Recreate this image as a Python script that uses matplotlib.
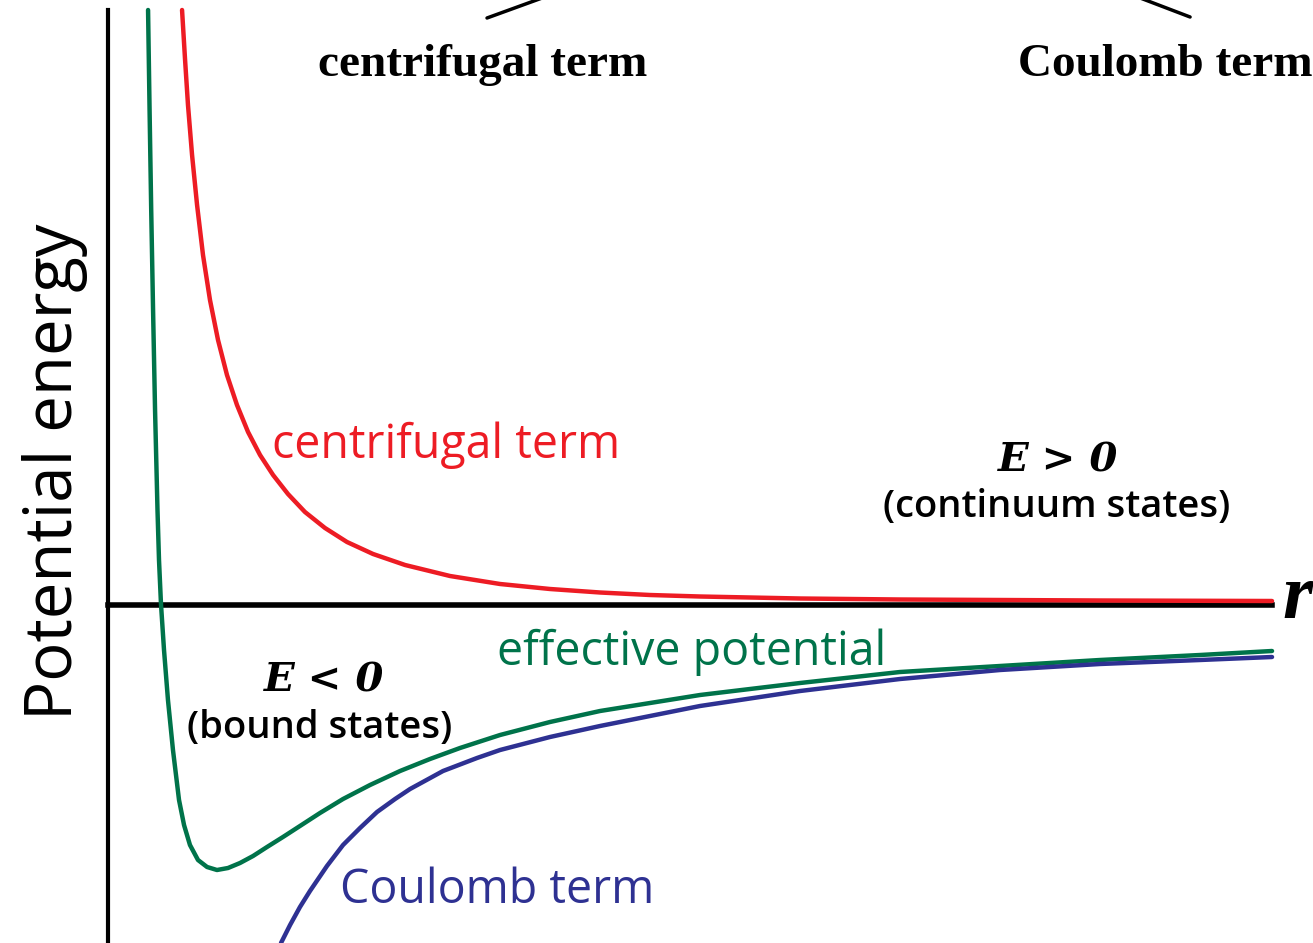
import matplotlib
matplotlib.use("Agg")
import matplotlib.pyplot as plt

# ========================================
# DATA
# ========================================

# centrifugal term
r_centrifugal = [0.636, 0.662, 0.687, 0.722, 0.765, 0.816, 0.876, 0.945, 1.022, 1.108,
                 1.203, 1.306, 1.418, 1.546, 1.692, 1.864, 2.053, 2.277, 2.552, 2.938,
                 3.368, 3.797, 4.227, 4.656, 5.086, 5.945, 6.804, 7.663, 8.522, 10.0]
v_centrifugal = [5.95, 5.45, 5.00, 4.50, 4.00, 3.50, 3.05, 2.65, 2.30, 2.00,
                 1.73, 1.50, 1.30, 1.11, 0.93, 0.77, 0.63, 0.51, 0.40, 0.29,
                 0.21, 0.16, 0.125, 0.10, 0.085, 0.065, 0.055, 0.05, 0.045, 0.04]

# effective potential
r_effective = [0.344, 0.357, 0.371, 0.387, 0.404, 0.425, 0.438, 0.455, 0.481, 0.515,
               0.558, 0.610, 0.653, 0.704, 0.773, 0.851, 0.936, 1.031, 1.134, 1.246,
               1.366, 1.503, 1.649, 1.821, 2.019, 2.251, 2.509, 2.766, 3.024, 3.368,
               3.797, 4.227, 5.086, 5.945, 6.804, 7.663, 8.522, 9.381, 10.0]
v_effective = [5.95, 4.95, 3.95, 2.95, 1.95, 0.95, 0.45, 0.01, -0.45, -0.95,
               -1.45, -1.95, -2.20, -2.40, -2.55, -2.62, -2.65, -2.63, -2.58, -2.51,
               -2.42, -2.32, -2.21, -2.08, -1.94, -1.80, -1.66, -1.54, -1.43, -1.30,
               -1.17, -1.06, -0.90, -0.78, -0.67, -0.61, -0.55, -0.50, -0.46]

# Coulomb term
r_coulomb = [1.486, 1.564, 1.649, 1.735, 1.881, 2.019, 2.165, 2.311, 2.466, 2.595,
             2.878, 3.170, 3.368, 3.797, 4.227, 5.086, 5.945, 6.804, 7.663, 8.522,
             9.381, 10.0]
v_coulomb = [-3.38, -3.20, -3.02, -2.86, -2.61, -2.40, -2.23, -2.07, -1.94, -1.84,
             -1.66, -1.53, -1.45, -1.32, -1.21, -1.01, -0.86, -0.74, -0.65, -0.59,
             -0.55, -0.52]

R_MAX = 10.0
V_TOP = 5.95

RED = "#ED1C24"
GREEN = "#00734A"
BLUE = "#2E3192"

SANS = ["Open Sans", "DejaVu Sans"]
SERIF = ["Liberation Serif", "DejaVu Serif"]
MATH = ["DejaVu Serif"]

# ========================================
# FIGURE
# ========================================

fig = plt.figure(figsize=(13.13, 9.43), dpi=100)
ax = fig.add_axes([0, 0, 1, 1])
ax.set_xlim(-0.928, 10.352)
ax.set_ylim(-3.38, 6.05)

# axes through the origin
for side in ["top", "right"]:
    ax.spines[side].set_visible(False)
ax.spines["left"].set_position(("data", 0))
ax.spines["bottom"].set_position(("data", 0))
ax.spines["left"].set_bounds(-3.38, V_TOP)
ax.spines["bottom"].set_bounds(0, R_MAX)
ax.spines["left"].set_linewidth(3)
ax.spines["bottom"].set_linewidth(4)
ax.set_xticks([])
ax.set_yticks([])
ax.patch.set_alpha(0)

style = dict(lw=3.2, solid_joinstyle="round", solid_capstyle="round")
ax.plot(r_effective, v_effective, color=GREEN, zorder=3, **style)
ax.plot(r_coulomb, v_coulomb, color=BLUE, zorder=3, **style)
ax.plot(r_centrifugal, v_centrifugal, color=RED, zorder=4, **style)

# curve labels
ax.text(1.409, 1.47, "centrifugal term", color=RED, fontsize=33.5, family=SANS,
        ha="left", va="baseline")
ax.text(3.342, -0.60, "effective potential", color=GREEN, fontsize=33.5, family=SANS,
        ha="left", va="baseline")
ax.text(1.993, -2.98, "Coulomb term", color=BLUE, fontsize=33.5, family=SANS,
        ha="left", va="baseline")

# energy regions
ax.text(8.16, 1.33, "E > 0", fontsize=29, family=MATH, style="italic", weight="bold",
        ha="center", va="baseline")
ax.text(8.15, 0.88, "(continuum states)", fontsize=27.5, family=SANS, weight="semibold",
        ha="center", va="baseline")
ax.text(1.856, -0.87, "E < 0", fontsize=29, family=MATH, style="italic", weight="bold",
        ha="center", va="baseline")
ax.text(1.82, -1.33, "(bound states)", fontsize=27.5, family=SANS, weight="semibold",
        ha="center", va="baseline")

# axis labels
ax.text(-0.309, 1.33, "Potential energy", fontsize=47, family=SANS, rotation=90,
        rotation_mode="anchor", ha="center", va="baseline")
ax.text(10.09, -0.13, "r", fontsize=56, family=SERIF, style="italic", weight="bold",
        ha="left", va="baseline")

# header labels with leader lines
ax.text(1.804, 5.29, "centrifugal term", fontsize=34, family=SERIF, weight="bold",
        ha="left", va="baseline")
ax.text(7.818, 5.29, "Coulomb term", fontsize=34, family=SERIF, weight="bold",
        ha="left", va="baseline", clip_on=False)
ax.annotate("", xy=(3.80, 6.10), xytext=(3.256, 5.87),
            arrowprops=dict(arrowstyle="-", lw=2.5, shrinkA=0, shrinkB=0), annotation_clip=False)
ax.annotate("", xy=(8.80, 6.10), xytext=(9.296, 5.88),
            arrowprops=dict(arrowstyle="-", lw=2.5, shrinkA=0, shrinkB=0), annotation_clip=False)

fig.savefig("out.png", dpi=100, facecolor="white")
